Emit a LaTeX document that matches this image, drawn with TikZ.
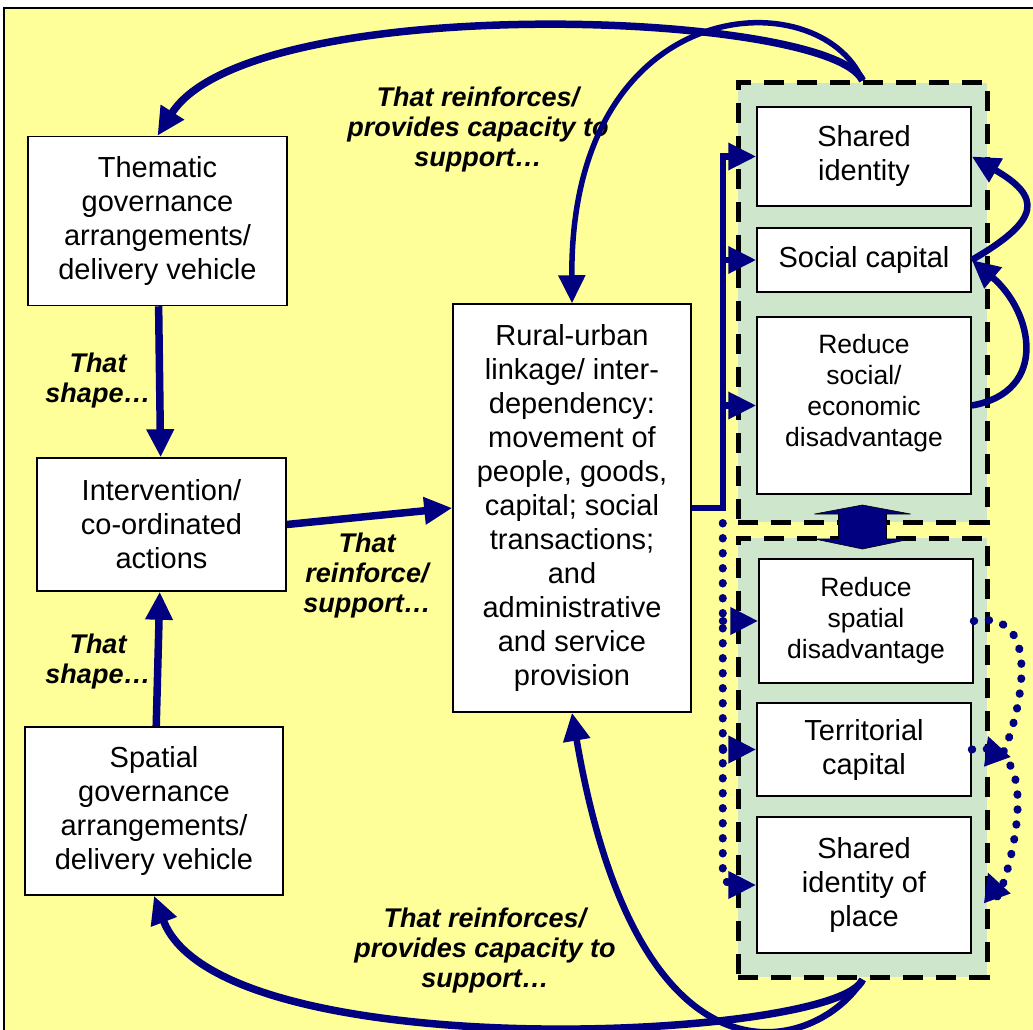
\documentclass[tikz,border=0pt]{standalone}
\usepackage{xcolor}
\usepackage{fontspec}
\setmainfont{Liberation Sans}
\usetikzlibrary{positioning,arrows.meta}

\definecolor{navy}{RGB}{0,0,128}
\definecolor{paleyellow}{RGB}{255,255,153}
\definecolor{paleteal}{RGB}{206,230,204}

\begin{document}
\begin{tikzpicture}[x=1pt,y=-1pt,>={Triangle[length=28pt 0 0,width=26pt 0 0]}]
  \tikzstyle{box}=[draw,line width=1.5pt,fill=white,align=center,inner sep=0pt,font=\fontsize{29}{34}\selectfont]
  \tikzstyle{small}=[font=\fontsize{26.5}{31}\selectfont]
  \tikzstyle{group}=[draw,line width=5pt,dash pattern=on 20pt off 13pt,fill=paleteal,inner sep=0pt,minimum width=249pt,minimum height=439pt]
  \tikzstyle{lbl}=[align=center,inner sep=0pt,font=\fontsize{27}{30}\selectfont\bfseries\itshape]
  \tikzstyle{link}=[navy,line width=7.5pt]
  \tikzstyle{dots}=[navy,line width=8pt,dash pattern=on 0.5pt off 14.5pt,line cap=round]

  \useasboundingbox (0,0) rectangle (1033,1030);
  \fill[paleyellow] (4,8) rectangle (1040,1040);
  \draw[line width=2pt] (4,1040) -- (4,8) -- (1040,8);

  \node[group] (upper) at (862.5,302.5) {};
  \node[group] (lower) at (862.5,757.5) {};

  \node[box,minimum width=259pt,minimum height=169pt] (them)   at (157.5,221)   {Thematic\\governance\\arrangements/\\delivery vehicle};
  \node[box,minimum width=249pt,minimum height=133pt] (interv) at (161.5,524.5) {Intervention/\\co-ordinated\\actions};
  \node[box,minimum width=258pt,minimum height=168pt] (spat)   at (154,811)     {Spatial\\governance\\arrangements/\\delivery vehicle};
  \node[box,minimum width=238pt,minimum height=408pt] (rural)  at (572,508)     {Rural-urban\\linkage/ inter-\\dependency:\\movement of\\people, goods,\\capital; social\\transactions;\\and\\administrative\\and service\\provision};

  \node[box,minimum width=214pt,minimum height=99pt]  (shid)   at (864,156.5)   {Shared\\identity};
  \node[box,minimum width=214pt,minimum height=64pt]  (socap)  at (864,260)     {Social capital};
  \node[box,small,minimum width=214pt,minimum height=177pt] (redsoc) at (864,405.5) {Reduce\\social/\\economic\\disadvantage\\[0pt]~};
  \node[box,small,minimum width=214pt,minimum height=124pt] (redsp)  at (866,621)   {Reduce\\spatial\\disadvantage};
  \node[box,minimum width=214pt,minimum height=93pt]  (terr)   at (864,749.5)   {Territorial\\capital};
  \node[box,minimum width=214pt,minimum height=136pt] (shidp)  at (864,885)     {Shared\\identity of\\place};

  \node[lbl] (capTop)   at (478,130) {That reinforces/\\provides capacity to\\support…};
  \node[lbl] (shapeTop) at (98,381)  {That\\shape…};
  \node[lbl] (reinf)    at (367,576) {That\\reinforce/\\support…};
  \node[lbl] (shapeBot) at (98,662)  {That\\shape…};
  \node[lbl] (capBot)   at (485,951) {That reinforces/\\provides capacity to\\support…};

  \draw[link,->] (them) -- (interv);
  \draw[link,->] (spat) -- (interv);
  \draw[link,->] (interv.east) -- (rural.west);

  \coordinate (bus) at ([xshift=31pt]rural.east);
  \draw[link,line width=6.5pt,->] (rural.east) -- (bus) |- (shid.west);
  \draw[link,line width=6.5pt,->] (bus |- socap.west) -- (socap.west);
  \draw[link,line width=6.5pt,->] (bus |- redsoc.west) -- (redsoc.west);

  \draw[dots,->,rounded corners=12pt] ([yshift=-15pt]bus) |- (shidp.west);
  \draw[dots,->] (bus |- redsp.west) -- (redsp.west);
  \draw[dots,->] (bus |- terr.west) -- (terr.west);

  \draw[link,line width=6.5pt,->] (socap.east) to[out=30,in=-30,looseness=2] (shid.east);
  \draw[link,line width=6.5pt,->] (redsoc.east) to[out=10,in=-40,looseness=1.4] (socap.east);
  \draw[dots,->] (redsp.east) to[out=10,in=-70,out distance=90pt,in distance=40pt] ([xshift=16pt,yshift=14pt]terr.east);
  \draw[dots,->] (terr.east) to[out=10,in=-70,out distance=85pt,in distance=35pt] ([xshift=16pt,yshift=13pt]shidp.east);

  \draw[link,->] (upper.north) .. controls (830,10) and (250,-10) .. (them.north);
  \draw[link,line width=5.5pt,->] (upper.north) .. controls (820,-20) and (570,-10) .. (rural.north);
  \draw[link,->] (lower.south) .. controls (840,1040) and (220,1070) .. (spat.south);
  \draw[link,line width=6.5pt,->] (lower.south) .. controls (820,1050) and (640,1110) .. (rural.south);

  \path (upper.south) -- (lower.north) coordinate[midway] (gap);
  \filldraw[fill=navy,draw=black,line width=0.6pt] ([yshift=25pt]gap) -- ([xshift=48pt,yshift=16pt]gap) -- ([xshift=24pt,yshift=16pt]gap)
    -- ([xshift=24pt,yshift=-9pt]gap) -- ([xshift=48pt,yshift=-9pt]gap) -- ([yshift=-19pt]gap) -- ([xshift=-48pt,yshift=-9pt]gap)
    -- ([xshift=-24pt,yshift=-9pt]gap) -- ([xshift=-24pt,yshift=16pt]gap) -- ([xshift=-48pt,yshift=16pt]gap) -- cycle;
\end{tikzpicture}
\end{document}
